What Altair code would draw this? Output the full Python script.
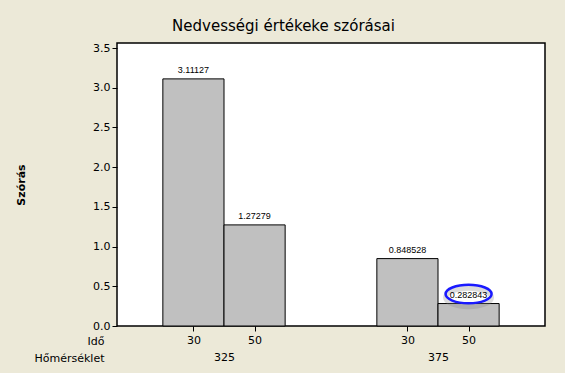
import altair as alt
import pandas as pd

# --- data ---
temps = ["325", "325", "375", "375"]
times = ["30", "50", "30", "50"]
stds = [3.11127, 1.27279, 0.848528, 0.282843]
group_labels = ["325", "375"]
highlight_index = 3

title_text = "Nedvességi értékeke szórásai"
y_title = "Szórás"
x_title = "Idő"
group_title = "Hőmérséklet"

# layout helpers (positions on a 0..7 index scale)
margin, gap = 0.75, 1.5
group_span = 2 + gap
centers = []
for i in range(len(stds)):
    g = group_labels.index(temps[i])
    s = i % 2
    centers.append(margin + g * group_span + s + 0.5)

df = pd.DataFrame({
    "temp": temps,
    "time": times,
    "std": stds,
    "center": centers,
    "left": [c - 0.5 for c in centers],
    "right": [c + 0.5 for c in centers],
})
hl = df.iloc[[highlight_index]]
group_centers = [margin + g * group_span + 1 for g in range(len(group_labels))]
gdf = pd.DataFrame({"gc": group_centers, "glabel": group_labels})

FONT = "DejaVu Sans"
X_DOMAIN = [0, 7]
Y_DOMAIN = [0, 3.563]

label_expr = " : ".join(
    f"datum.value == {c} ? '{t}'" for c, t in zip(centers, times)
) + " : ''"
group_expr = " : ".join(
    f"datum.value == {c} ? '{t}'" for c, t in zip(group_centers, group_labels)
) + " : ''"

xscale = alt.Scale(domain=X_DOMAIN, nice=False, zero=False, padding=0)
yscale = alt.Scale(domain=Y_DOMAIN, nice=False, padding=0)

base = alt.Chart(df)

bars = base.mark_bar(color="#C0C0C0", stroke="black", strokeWidth=1,
                     orient="vertical").encode(
    x=alt.X("left:Q", scale=xscale, axis=alt.Axis(
        values=centers, labelExpr=label_expr, title=x_title,
        tickSize=5, tickColor="black", labelPadding=3, domain=False, grid=False,
        labelFont=FONT, labelFontSize=11, labelColor="black",
        titleFont=FONT, titleFontSize=11, titleFontWeight="normal", titleColor="black",
        titleX=-13, titleY=15, titleAlign="right", titleBaseline="middle", titleAngle=0)),
    x2="right:Q",
    y=alt.Y("std:Q", scale=yscale, axis=alt.Axis(
        values=[0, 0.5, 1, 1.5, 2, 2.5, 3, 3.5], format=".1f", title=y_title,
        tickSize=5, tickColor="black", labelPadding=2, domain=False, grid=False,
        labelFont=FONT, labelFontSize=11, labelColor="black",
        titleFont=FONT, titleFontSize=11, titleFontWeight="bold", titleColor="black",
        titleX=-96, titleY=141.5, titleAlign="center", titleBaseline="middle", titleAngle=270)),
    y2=alt.datum(0),
)

labels = base.mark_text(font="Liberation Sans", fontSize=9, baseline="alphabetic",
                        dy=-6, color="black").encode(
    x=alt.X("center:Q", scale=xscale),
    y=alt.Y("std:Q", scale=yscale),
    text=alt.Text("std:Q", format=".6~g"),
)

ellipse_path = "M -1 0 A 1 0.4 0 1 1 1 0 A 1 0.4 0 1 1 -1 0 Z"
shadow = alt.Chart(hl).mark_point(shape=ellipse_path, size=2116, filled=False,
                                  stroke="#8a8a8a", strokeWidth=5, opacity=0.3,
                                  yOffset=-6).encode(
    x=alt.X("center:Q", scale=xscale),
    y=alt.Y("std:Q", scale=yscale),
)
ellipse = alt.Chart(hl).mark_point(shape=ellipse_path, size=2116, filled=False,
                                   stroke="#1a1aff", strokeWidth=2.5, opacity=1,
                                   yOffset=-9.5).encode(
    x=alt.X("center:Q", scale=xscale),
    y=alt.Y("std:Q", scale=yscale),
)

main = alt.layer(bars, shadow, labels, ellipse)

groups = alt.Chart(gdf).mark_point(opacity=0).encode(
    x=alt.X("gc:Q", scale=xscale, axis=alt.Axis(
        orient="bottom", values=group_centers, labelExpr=group_expr, title=group_title,
        ticks=False, domain=False, grid=False, labelPadding=25,
        labelFont=FONT, labelFontSize=11, labelColor="black",
        titleFont=FONT, titleFontSize=11, titleFontWeight="normal", titleColor="black",
        titleX=-13, titleY=32, titleAlign="right", titleBaseline="middle", titleAngle=0)),
)

chart = alt.layer(main, groups).resolve_scale(x="independent").properties(
    width=428, height=283,
    autosize=alt.AutoSizeParams(type="none"),
    padding={"left": 117, "top": 43, "right": 20, "bottom": 47},
    background="#ECE9D8",
    title=alt.TitleParams(title_text, font=FONT, fontSize=15, fontWeight="normal",
                          color="black", anchor="middle", dx=-47.5, dy=4, offset=0,
                          baseline="alphabetic"),
).configure_view(fill="white", stroke="black", strokeWidth=1.5)

chart.save("out.html", embed_options={"renderer": "svg", "actions": False})
